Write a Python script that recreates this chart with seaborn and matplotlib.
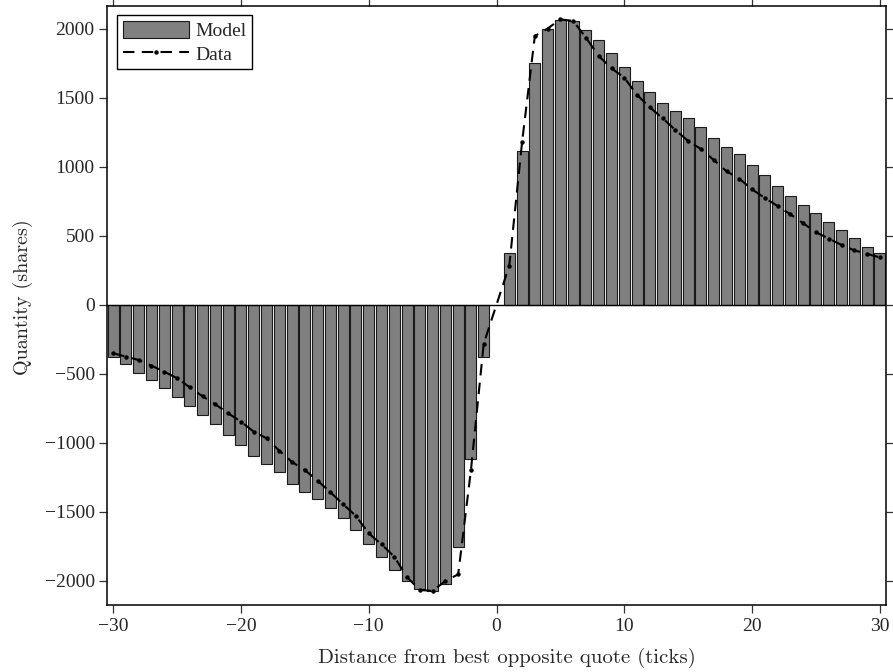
import matplotlib
matplotlib.use("Agg")
import matplotlib.pyplot as plt
import pandas as pd
import seaborn as sns

# distances from best opposite quote (ticks), 0 excluded
ticks_neg = list(range(-30, 0))
ticks_pos = list(range(1, 31))

model_neg = [
    -379, -428, -493, -543, -604, -669, -729, -795, -862, -942,
    -1017, -1097, -1150, -1213, -1295, -1355, -1408, -1469, -1546, -1628,
    -1729, -1826, -1920, -1998, -2060, -2070, -2019, -1756, -1118, -377,
]
model_pos = [
    374, 1116, 1754, 2002, 2065, 2060, 1995, 1918, 1824, 1727,
    1626, 1543, 1464, 1406, 1353, 1292, 1208, 1147, 1092, 1017,
    940, 860, 790, 725, 664, 599, 541, 488, 423, 379,
]

data_neg = [
    -350, -374, -399, -440, -483, -531, -597, -662, -720, -785,
    -845, -918, -966, -1056, -1138, -1196, -1273, -1357, -1444, -1529,
    -1655, -1734, -1824, -1973, -2065, -2072, -2000, -1952, -1196, -280,
]
data_pos = [
    285, 1179, 1949, 2003, 2070, 2058, 1937, 1804, 1715, 1647,
    1522, 1432, 1353, 1268, 1188, 1130, 1051, 969, 915, 838,
    775, 717, 657, 592, 527, 481, 435, 396, 370, 345,
]

df = pd.DataFrame({
    "tick": ticks_neg + ticks_pos,
    "model": model_neg + model_pos,
    "data": data_neg + data_pos,
})

sns.set_style("ticks")
plt.rcParams["font.family"] = ["Liberation Serif", "DejaVu Serif"]
plt.rcParams["xtick.direction"] = "out"
plt.rcParams["ytick.direction"] = "out"

fig = plt.figure(figsize=(8.93, 6.72), dpi=100)
ax = fig.add_axes([0.120, 0.0997, 0.872, 0.8921])

sns.barplot(data=df, x="tick", y="model", native_scale=True, color="#808080",
            saturation=1, width=0.86, edgecolor="#1a1a1a", linewidth=0.8,
            label="Model", ax=ax, zorder=2)
sns.lineplot(data=df, x="tick", y="data", color="black", linestyle="--",
             dashes=False, marker="o", markersize=3.2, markeredgewidth=0,
             linewidth=1.5, label="Data", ax=ax, zorder=3)
for ln in ax.get_lines():
    ln.set_dashes([5.5, 3.5])

ax.axhline(0, color="black", linewidth=1.0, zorder=4)

ax.set_xlim(-30.47, 30.47)
ax.set_ylim(-2174, 2170)
ax.set_xticks(range(-30, 31, 10))
ax.set_yticks(range(-2000, 2001, 500))
ax.tick_params(axis="both", which="major", labelsize=14, length=6, width=0.9,
               top=True, right=True, direction="out", color="#333333", pad=3)
for s in ax.spines.values():
    s.set_linewidth(1.1)
    s.set_color("black")

ax.set_xlabel("Distance from best opposite quote (ticks)", family="cmr10",
              fontsize=15)
ax.set_ylabel("Quantity (shares)", family="cmr10", fontsize=14.5)
ax.xaxis.set_label_coords(0.513, -0.072)
ax.yaxis.set_label_coords(-0.095, 0.513)

handles, labels = ax.get_legend_handles_labels()
order = [labels.index("Model"), labels.index("Data")]
leg = ax.legend([handles[i] for i in order], [labels[i] for i in order],
                loc="upper left", bbox_to_anchor=(0.013, 0.984),
                borderaxespad=0, fancybox=False, framealpha=1,
                edgecolor="black", fontsize=14, handlelength=3.4,
                handleheight=1.0, handletextpad=0.3, labelspacing=0.2,
                borderpad=0.3)
leg.get_frame().set_linewidth(1.0)

plt.savefig("out.png", dpi=100)
